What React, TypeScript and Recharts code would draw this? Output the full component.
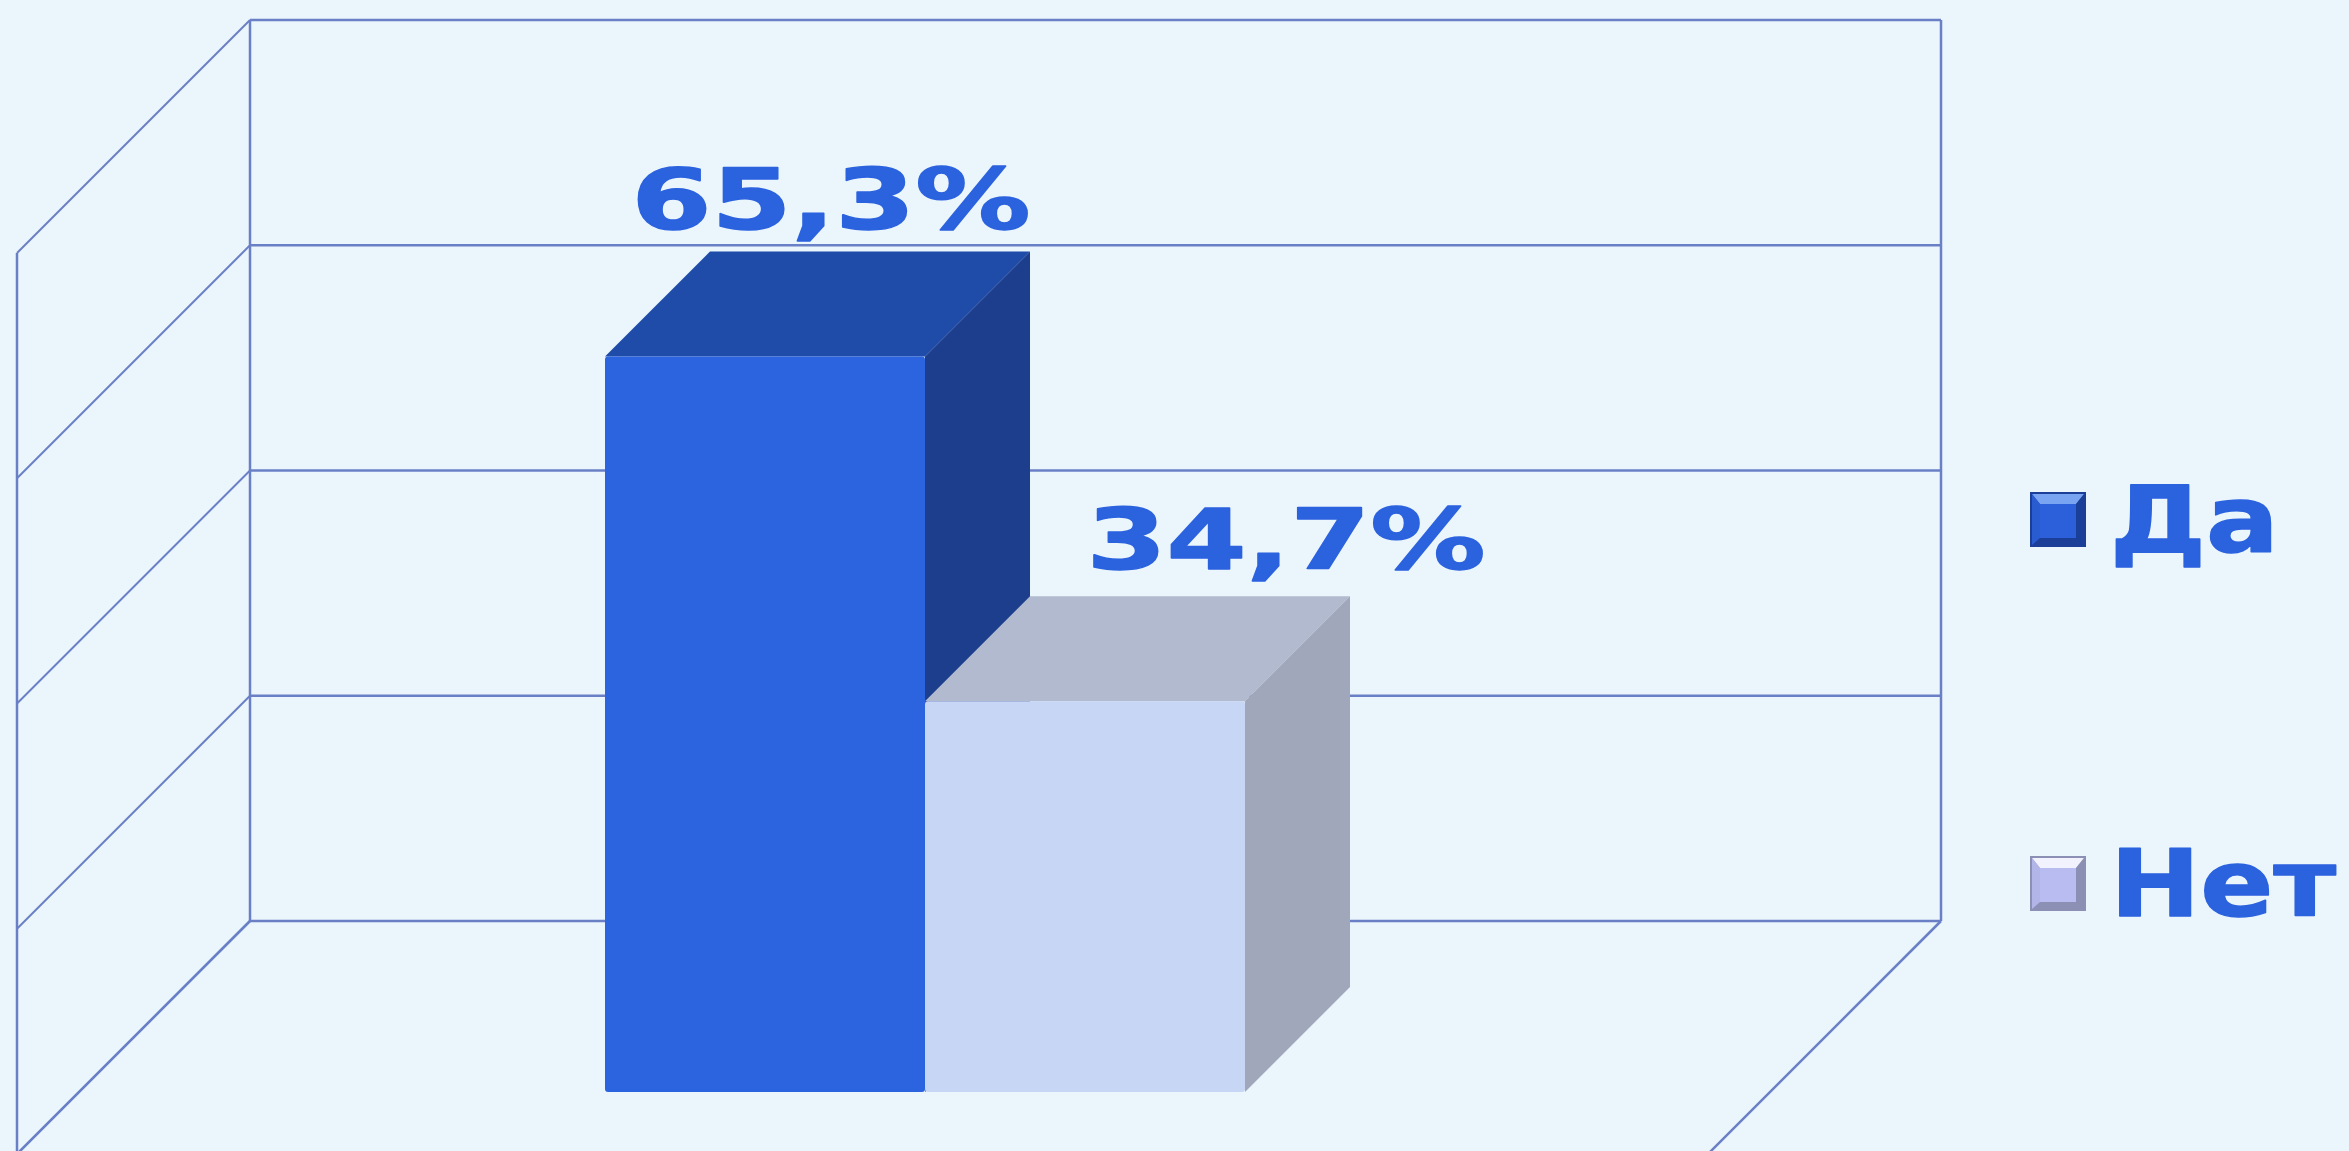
import React from "react";
import {
  Bar,
  BarChart,
  CartesianGrid,
  LabelList,
  Legend,
  XAxis,
  YAxis,
} from "recharts";

// data
const categories = ["Ответ"];
const seriesNames = ["Да", "Нет"];
const yesValues = [65.3];
const noValues = [34.7];
const yTicks = [0, 20, 40, 60, 80];

const data = categories.map((name, i) => ({
  name,
  yes: yesValues[i],
  no: noValues[i],
}));

const W = 2349;
const H = 1151;
const MARGIN = { top: 20, right: 408, bottom: 230, left: 250 };
const WALL = 233; // depth of the side wall / floor
const FRONT = 171; // bar front face depth from the back wall
const BACK = 66; // bar back face depth

const BG = "#EBF5FC";
const GRID = "#6A80C6";
const TEXT = "#2B62DE";
const FONT = "'DejaVu Sans', sans-serif";

const palette: Record<string, { face: string; top: string; side: string }> = {
  Да: { face: "#2C63DF", top: "#1F4CA9", side: "#1D3D8D" },
  Нет: { face: "#C7D6F4", top: "#B2BACF", side: "#A0A7BA" },
};

const markers: Record<string, { body: string; light: string; dark: string }> = {
  Да: { body: "#2B60DA", light: "#79A4F2", dark: "#1B3F98" },
  Нет: { body: "#B9BCF1", light: "#F2F2FF", dark: "#8C90B4" },
};

function Box3D(props: any) {
  const { x, y, width: w, height: h, colors } = props;
  if (w == null || h == null) return null;
  const fx = x - FRONT;
  const fy = y + FRONT;
  const bx = x - BACK;
  const by = y + BACK;
  return (
    <g>
      <polygon
        points={`${fx},${fy} ${fx + w},${fy} ${bx + w},${by} ${bx},${by}`}
        fill={colors.top}
      />
      <polygon
        points={`${fx + w},${fy} ${bx + w},${by} ${bx + w},${by + h} ${fx + w},${fy + h}`}
        fill={colors.side}
      />
      <rect x={fx} y={fy} width={w} height={h} fill={colors.face} rx={3} />
    </g>
  );
}

function makeLabel(dx: number, dy: number) {
  return (props: any) => {
    const { x, y, value } = props;
    return (
      <text
        transform={`translate(${x + dx}, ${y + dy}) scale(1.37, 1)`}
        textAnchor="middle"
        fill={TEXT}
        stroke={TEXT}
        strokeWidth={1.5}
        strokeLinejoin="round"
        fontFamily={FONT}
        fontWeight="bold"
        fontSize={84}
      >
        {`${String(value).replace(".", ",")}%`}
      </text>
    );
  };
}

// horizontal grid line on the back wall plus its diagonal on the left wall
function WallLine(props: any) {
  const { x1, x2, y1 } = props;
  return (
    <g key={props.key}>
      <line x1={x1} y1={y1} x2={x2} y2={y1} stroke={GRID} strokeWidth={2.5} />
      <line x1={x1} y1={y1} x2={x1 - WALL} y2={y1 + WALL} stroke={GRID} strokeWidth={2} />
    </g>
  );
}

// vertical edges of the back wall, floor diagonals, front edge of the side wall
function WallEdge(props: any) {
  const { x1, y1, y2, index } = props;
  return (
    <g key={props.key}>
      <line x1={x1} y1={y1} x2={x1} y2={y2} stroke={GRID} strokeWidth={2.5} />
      <line x1={x1} y1={y2} x2={x1 - WALL} y2={y2 + WALL} stroke={GRID} strokeWidth={2.5} />
      {index === 0 && (
        <line
          x1={x1 - WALL}
          y1={y1 + WALL}
          x2={x1 - WALL}
          y2={y2 + WALL}
          stroke={GRID}
          strokeWidth={2.5}
        />
      )}
    </g>
  );
}

function LegendBox({ payload }: any) {
  const items = payload ?? [];
  return (
    <svg width={329} height={480} style={{ display: "block" }}>
      {items.map((item: any, i: number) => {
        const m = markers[item.value] ?? markers["Да"];
        const oy = i * 364;
        return (
          <g key={item.value} transform={`translate(0, ${oy})`}>
            <rect x={10} y={32} width={56} height={55} fill={m.dark} />
            <polygon points="12,34 64,34 56,44 20,44" fill={m.light} />
            <rect x={20} y={44} width={36} height={34} fill={m.body} />
            <polygon points="12,34 20,44 20,78 12,85" fill={m.body} opacity={0.85} />
            <polygon points="64,34 56,44 56,78 64,85" fill={m.dark} opacity={0.6} />
            <text
              transform={`translate(90, 92) scale(1.16, 1)`}
              fill={TEXT}
              stroke={TEXT}
              strokeWidth={1.5}
              strokeLinejoin="round"
              fontFamily={FONT}
              fontWeight="bold"
              fontSize={93}
            >
              {item.value}
            </text>
          </g>
        );
      })}
    </svg>
  );
}

export default function App() {
  return (
    <div
      style={{
        position: "absolute",
        left: 0,
        top: 0,
        width: W,
        height: H,
        background: BG,
        overflow: "hidden",
      }}
    >
      <BarChart
        width={W}
        height={H}
        data={data}
        margin={MARGIN}
        barGap={0}
        barSize={320}
      >
        <CartesianGrid
          horizontal={WallLine}
          vertical={WallEdge}
          verticalCoordinatesGenerator={({ offset }: any) => [
            offset.left,
            offset.left + offset.width,
          ]}
        />
        <XAxis dataKey="name" hide />
        <YAxis domain={[0, 80]} ticks={yTicks} hide />
        <Legend
          layout="horizontal"
          verticalAlign="middle"
          align="center"
          content={LegendBox}
          wrapperStyle={{ left: 2020, top: 460, width: 329 }}
        />
        <Bar
          dataKey="yes"
          name={seriesNames[0]}
          fill={palette["Да"].face}
          isAnimationActive={false}
          shape={(p: any) => <Box3D {...p} colors={palette["Да"]} />}
        >
          <LabelList dataKey="yes" content={makeLabel(55, 43)} />
        </Bar>
        <Bar
          dataKey="no"
          name={seriesNames[1]}
          fill={palette["Нет"].face}
          isAnimationActive={false}
          shape={(p: any) => <Box3D {...p} colors={palette["Нет"]} />}
        >
          <LabelList dataKey="no" content={makeLabel(190, 39)} />
        </Bar>
      </BarChart>
    </div>
  );
}
